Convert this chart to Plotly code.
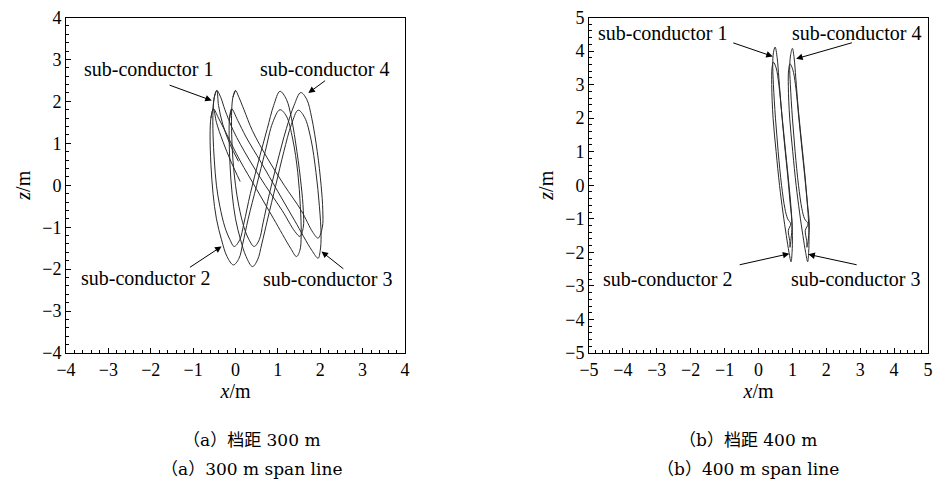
import plotly.graph_objects as go

# ---------------- (a) 300 m span: sub-conductor trajectories (x, z in m) ----------------
a_c1_x = [0.07, -0.13, -0.30, -0.40, -0.44, -0.50, -0.53, -0.53, -0.50, -0.45, -0.37, -0.25, -0.13, -0.03,
          0.10, 0.20, 0.35, 0.55, 0.75, 0.90, 1.05, 1.20, 1.32, 1.45, 1.55, 1.60, 1.60, 1.52,
          1.40, 1.10, 0.70, 0.30, -0.05, -0.25, -0.35, -0.44, -0.50, -0.53]
a_c1_z = [0.57, 0.98, 1.45, 1.90, 2.26, 2.10, 1.80, 1.20, 0.60, 0.00, -0.50, -1.00, -1.30, -1.46,
          -1.30, -0.90, -0.20, 0.60, 1.35, 1.90, 2.24, 2.05, 1.60, 0.80, 0.00, -0.60, -1.00, -1.22,
          -1.10, -0.60, 0.00, 0.65, 1.30, 1.80, 2.10, 2.26, 2.10, 1.80]

a_c2_x = [0.11, -0.10, -0.30, -0.45, -0.52, -0.58, -0.60, -0.58, -0.53, -0.45, -0.33, -0.20, -0.05,
          0.08, 0.17, 0.30, 0.50, 0.70, 0.88, 1.05, 1.20, 1.35, 1.47, 1.53, 1.55, 1.52, 1.44,
          1.30, 0.90, 0.50, 0.10, -0.20, -0.40, -0.52, -0.58]
a_c2_z = [0.09, 0.55, 1.05, 1.50, 1.82, 1.60, 1.20, 0.50, -0.20, -0.80, -1.30, -1.70, -1.90,
          -1.75, -1.40, -0.80, 0.00, 0.80, 1.50, 1.80, 1.65, 1.10, 0.30, -0.50, -1.20, -1.55, -1.70,
          -1.50, -0.80, -0.10, 0.60, 1.20, 1.60, 1.82, 1.60]

a_c3_x = [-0.09, -0.14, -0.15, -0.13, -0.08, 0.00, 0.12, 0.25, 0.40,
          0.52, 0.62, 0.76, 0.95, 1.14, 1.32, 1.48, 1.63, 1.78, 1.90, 1.98, 2.02, 2.00, 1.95,
          1.80, 1.40, 1.00, 0.60, 0.25, 0.05, -0.09, -0.14]
a_c3_z = [1.82, 1.60, 1.20, 0.50, -0.20, -0.80, -1.30, -1.70, -1.94,
          -1.78, -1.40, -0.80, 0.00, 0.80, 1.45, 1.79, 1.62, 1.10, 0.30, -0.50, -1.20, -1.55, -1.74,
          -1.55, -0.85, -0.15, 0.55, 1.15, 1.55, 1.82, 1.60]

a_c4_x = [0.00, -0.06, -0.09, -0.09, -0.06, 0.00, 0.08, 0.20, 0.32, 0.44,
          0.56, 0.65, 0.80, 1.00, 1.20, 1.38, 1.54, 1.68, 1.80, 1.93, 2.02, 2.06, 2.05, 1.95,
          1.83, 1.55, 1.15, 0.75, 0.40, 0.20, 0.08, 0.00, -0.06]
a_c4_z = [2.26, 2.10, 1.80, 1.20, 0.60, 0.00, -0.50, -1.00, -1.30, -1.46,
          -1.30, -0.90, -0.20, 0.60, 1.35, 1.90, 2.21, 2.05, 1.60, 0.80, 0.00, -0.60, -1.00, -1.26,
          -1.13, -0.60, 0.00, 0.65, 1.30, 1.80, 2.10, 2.26, 2.10]

# ---------------- (b) 400 m span: sub-conductor trajectories ----------------
b_c1_x = [0.49, 0.44, 0.42, 0.44, 0.50, 0.58, 0.68, 0.78, 0.86, 0.95, 0.88, 0.92, 0.93,
          0.96, 0.99, 0.93, 0.86, 0.77, 0.68, 0.60, 0.55, 0.49]
b_c1_z = [4.12, 3.95, 3.60, 3.00, 2.00, 1.00, 0.00, -0.70, -1.00, -1.15, -1.35, -1.65, -1.85,
          -1.60, -1.20, -0.50, 0.30, 1.20, 2.20, 3.20, 3.80, 4.12]

b_c2_x = [0.44, 0.40, 0.39, 0.43, 0.52, 0.62, 0.72, 0.82, 0.90, 0.96,
          0.99, 1.00, 0.97, 0.90, 0.80, 0.70, 0.60, 0.52, 0.44]
b_c2_z = [3.67, 3.50, 3.00, 2.00, 1.00, 0.00, -0.80, -1.50, -2.00, -2.28,
          -2.00, -1.50, -0.80, 0.00, 1.00, 2.00, 3.00, 3.50, 3.67]

b_c3_x = [0.93, 0.89, 0.88, 0.92, 1.01, 1.11, 1.21, 1.31, 1.39, 1.45,
          1.48, 1.49, 1.46, 1.39, 1.29, 1.19, 1.09, 1.01, 0.93]
b_c3_z = [3.62, 3.45, 2.95, 2.00, 1.00, 0.00, -0.80, -1.50, -2.00, -2.28,
          -2.00, -1.50, -0.80, 0.00, 1.00, 2.00, 3.00, 3.45, 3.62]

b_c4_x = [1.00, 0.95, 0.92, 0.94, 1.00, 1.08, 1.18, 1.28, 1.36, 1.46, 1.38, 1.42, 1.43,
          1.47, 1.50, 1.44, 1.37, 1.28, 1.18, 1.10, 1.05, 1.00]
b_c4_z = [4.08, 3.90, 3.55, 3.00, 2.00, 1.00, 0.00, -0.70, -1.00, -1.15, -1.35, -1.65, -1.85,
          -1.60, -1.20, -0.50, 0.30, 1.20, 2.20, 3.20, 3.80, 4.08]

# label text, arrow tip (x, z) and arrow tail (x, z), label centre (x, z)
labels = ["sub-conductor 1", "sub-conductor 4", "sub-conductor 2", "sub-conductor 3"]
a_tips = [(-0.56, 2.02), (1.72, 2.20), (-0.33, -1.46), (2.03, -1.58)]
a_tails = [(-1.59, 2.40), (2.15, 2.52), (-1.11, -1.98), (2.58, -2.02)]
a_text_pos = [(-2.06, 2.78), (2.11, 2.78), (-2.13, -2.22), (2.16, -2.23)]
b_tips = [(0.42, 3.84), (1.11, 3.77), (0.91, -2.04), (1.47, -2.06)]
b_tails = [(-0.79, 4.26), (2.80, 4.26), (-0.60, -2.38), (2.94, -2.38)]
b_text_pos = [(-2.83, 4.53), (2.88, 4.53), (-2.67, -2.78), (2.86, -2.78)]

captions_a = ["（a）档距 300 m", "（a）300 m span line"]
captions_b = ["（b）档距 400 m", "（b）400 m span line"]

SERIF = "Liberation Serif, Times New Roman, serif"
CAP_FONT = "DejaVu Serif, Noto Sans CJK SC, serif"
LINE = dict(color="#2a2a2a", width=1, shape="spline", smoothing=1.0)

fig = go.Figure()
for xs, zs in [(a_c1_x, a_c1_z), (a_c2_x, a_c2_z), (a_c3_x, a_c3_z), (a_c4_x, a_c4_z)]:
    fig.add_trace(go.Scatter(x=xs, y=zs, mode="lines", line=LINE, xaxis="x", yaxis="y",
                             showlegend=False, hoverinfo="skip"))
for xs, zs in [(b_c1_x, b_c1_z), (b_c2_x, b_c2_z), (b_c3_x, b_c3_z), (b_c4_x, b_c4_z)]:
    fig.add_trace(go.Scatter(x=xs, y=zs, mode="lines", line=LINE, xaxis="x2", yaxis="y2",
                             showlegend=False, hoverinfo="skip"))


def axis(rng, domain, anchor, title, standoff):
    return dict(
        range=rng, domain=domain, anchor=anchor, dtick=1, tick0=0,
        ticks="inside", ticklen=5, tickwidth=1, tickcolor="black",
        showline=True, linecolor="black", linewidth=1, mirror=True,
        showgrid=False, zeroline=False, automargin=False,
        minor=dict(dtick=0.2, ticks="inside", ticklen=3, tickwidth=1,
                   tickcolor="black", showgrid=False),
        tickfont=dict(family=SERIF, size=18, color="black"),
        title=dict(text=title, font=dict(family=SERIF, size=20, color="black"),
                   standoff=standoff),
    )


ydom = [131 / 484, 466.5 / 484]
fig.update_layout(
    width=937, height=484,
    margin=dict(l=0, r=0, t=0, b=0),
    paper_bgcolor="white", plot_bgcolor="white",
    xaxis=axis([-4, 4], [66 / 937, 405 / 937], "y", "<i>x</i>/m", 2),
    yaxis=axis([-4, 4], ydom, "x", "<i>z</i>/m", 6),
    xaxis2=axis([-5, 5], [589 / 937, 928 / 937], "y2", "<i>x</i>/m", 2),
    yaxis2=axis([-5, 5], ydom, "x2", "<i>z</i>/m", 6),
)

ann = []
for xr, yr, tips, tails, tpos in [("x", "y", a_tips, a_tails, a_text_pos),
                                  ("x2", "y2", b_tips, b_tails, b_text_pos)]:
    for lab, tip, tail, tp in zip(labels, tips, tails, tpos):
        ann.append(dict(x=tp[0], y=tp[1], xref=xr, yref=yr, text=lab, showarrow=False,
                        font=dict(family=SERIF, size=20, color="black"),
                        xanchor="center", yanchor="middle"))
        ann.append(dict(x=tip[0], y=tip[1], xref=xr, yref=yr, ax=tail[0], ay=tail[1],
                        axref=xr, ayref=yr, text="", showarrow=True,
                        arrowhead=2, arrowsize=1.3, arrowwidth=1, arrowcolor="black",
                        standoff=0, startstandoff=0))

for cx, caps in [(252 / 937, captions_a), (748 / 937, captions_b)]:
    for cy, txt in zip([440, 469], caps):
        ann.append(dict(x=cx, y=1 - cy / 484, xref="paper", yref="paper", text=txt,
                        showarrow=False, xanchor="center", yanchor="middle",
                        font=dict(family=CAP_FONT, size=17, color="black")))

fig.update_layout(annotations=ann)
fig.write_html("out.html")
